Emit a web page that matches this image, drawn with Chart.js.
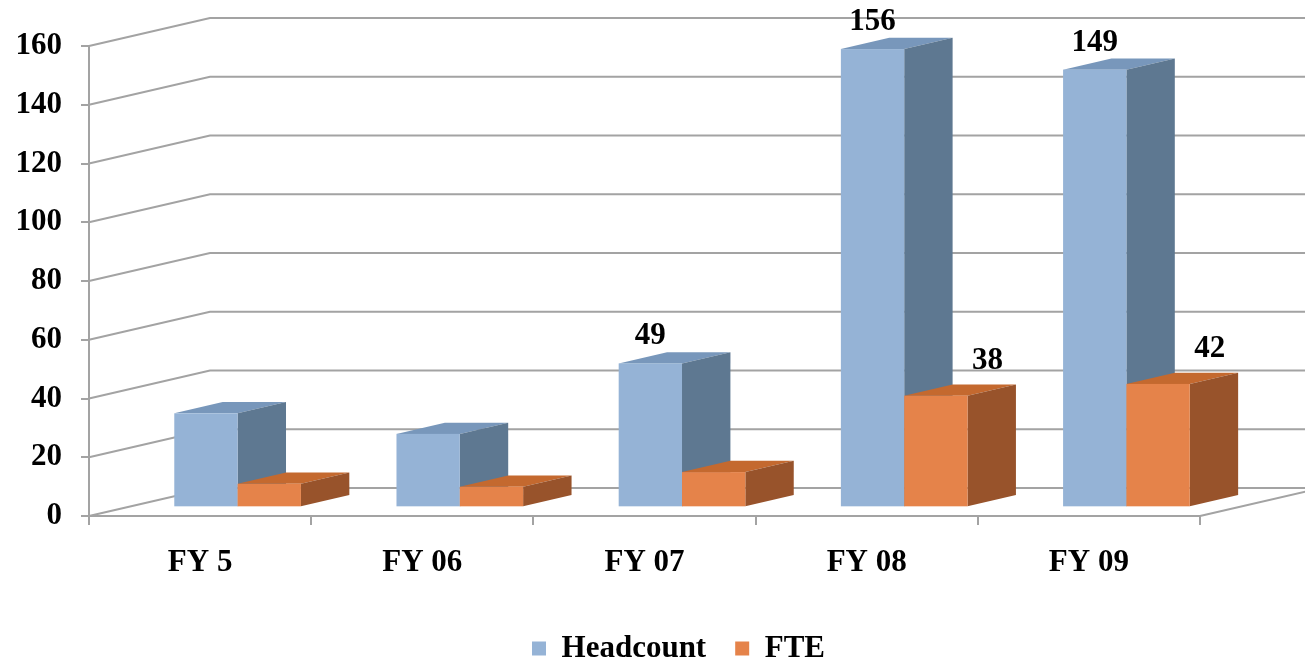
<!DOCTYPE html>
<html>
<head>
<meta charset="utf-8">
<title>Headcount / FTE</title>
<script src="https://cdn.jsdelivr.net/npm/chart.js@4.4.1/dist/chart.umd.min.js"></script>
<style>
  html, body { margin: 0; padding: 0; background: #fff; }
</style>
</head>
<body>
<canvas id="chartHeadcount" width="1305" height="663"></canvas>
<script>
const categories = ['FY 5', 'FY 06', 'FY 07', 'FY 08', 'FY 09'];
const headcount = [32, 25, 49, 156, 149];
const fte = [8, 7, 12, 38, 42];
const yTicks = [0, 20, 40, 60, 80, 100, 120, 140, 160];
// bars that carry a value label
const headcountShowValue = [false, false, true, true, true];
const fteShowValue = [false, false, false, true, true];

const FONT = 'Liberation Serif';
const FONT_SIZE = 31;
const GRID = '#a3a3a3';

// projection of the back wall, and where the bars sit inside the depth
const WALL = { dx: 121, dy: -28 };
const BAR_FRONT = 0.31;
const BAR_DEPTH = 0.40;
const LEGEND_SHIFT = 52;

const box3d = {
  id: 'box3d',
  afterLayout(chart) {
    // legend sits a bit right of the canvas centre
    if (chart.legend) chart.legend.left += LEGEND_SHIFT;
  },
  beforeDatasetsDraw(chart) {
    const { ctx, chartArea: area, scales: { y } } = chart;
    ctx.save();

    // walls: one slanted + back line per tick
    ctx.strokeStyle = GRID;
    ctx.lineWidth = 2;
    yTicks.forEach(v => {
      const py = y.getPixelForValue(v);
      ctx.beginPath();
      ctx.moveTo(area.left, py);
      ctx.lineTo(area.left + WALL.dx, py + WALL.dy);
      ctx.lineTo(area.right + WALL.dx, py + WALL.dy);
      ctx.stroke();
    });
    const y0 = y.getPixelForValue(0);
    ctx.beginPath();
    ctx.moveTo(area.right, y0);
    ctx.lineTo(area.right + WALL.dx, y0 + WALL.dy);
    ctx.stroke();

    const fx = WALL.dx * BAR_FRONT, fy = WALL.dy * BAR_FRONT;
    const dx = WALL.dx * BAR_DEPTH, dy = WALL.dy * BAR_DEPTH;
    const datasets = chart.data.datasets;

    categories.forEach((_, i) => {
      datasets.forEach((ds, d) => {
        const bar = chart.getDatasetMeta(d).data[i];
        const { x, y: top, base, width } = bar.getProps(['x', 'y', 'base', 'width'], true);
        const l = x - width / 2 + fx, r = x + width / 2 + fx;
        const t = top + fy, b = base + fy;

        ctx.fillStyle = ds.topColor;
        ctx.beginPath();
        ctx.moveTo(l, t);
        ctx.lineTo(l + dx, t + dy);
        ctx.lineTo(r + dx, t + dy);
        ctx.lineTo(r, t);
        ctx.closePath();
        ctx.fill();

        ctx.fillStyle = ds.sideColor;
        ctx.beginPath();
        ctx.moveTo(r, t);
        ctx.lineTo(r + dx, t + dy);
        ctx.lineTo(r + dx, b + dy);
        ctx.lineTo(r, b);
        ctx.closePath();
        ctx.fill();

        ctx.fillStyle = ds.backgroundColor;
        ctx.fillRect(l, t, r - l, b - t);
      });
    });
    ctx.restore();
    return false;
  },
  afterDraw(chart) {
    const { ctx } = chart;
    const fx = WALL.dx * BAR_FRONT, fy = WALL.dy * BAR_FRONT;
    ctx.save();
    ctx.font = 'bold ' + FONT_SIZE + 'px "' + FONT + '"';
    ctx.fillStyle = '#000';
    ctx.textAlign = 'center';
    ctx.textBaseline = 'alphabetic';
    chart.data.datasets.forEach((ds, d) => {
      chart.getDatasetMeta(d).data.forEach((bar, i) => {
        if (!ds.showValue[i]) return;
        const { x, y: top, width } = bar.getProps(['x', 'y', 'width'], true);
        const t = top + fy;
        if (d === 0) {
          ctx.fillText(ds.data[i], x + fx, t - 19);
        } else {
          ctx.fillText(ds.data[i], x + width / 2 + fx + 20, t - 27);
        }
      });
    });
    ctx.restore();
  }
};

const dataHeadcount = {
  labels: categories,
  datasets: [{
    label: 'Headcount',
    data: headcount,
    backgroundColor: '#95b3d6',
    sideColor: '#5e7891',
    topColor: '#7897bb',
    showValue: headcountShowValue,
    borderWidth: 0
  }, {
    label: 'FTE',
    data: fte,
    backgroundColor: '#e5834a',
    sideColor: '#98532b',
    topColor: '#c4692f',
    showValue: fteShowValue,
    borderWidth: 0
  }]
};

const tickFont = { family: FONT, size: FONT_SIZE, weight: 'bold' };

const optionsHeadcount = {
  responsive: false,
  animation: false,
  devicePixelRatio: 1,
  layout: {
    padding: { top: 46, left: 0, right: 0, bottom: -11 }
  },
  datasets: {
    bar: { categoryPercentage: 0.57, barPercentage: 1 }
  },
  scales: {
    x: {
      grid: {
        display: true,
        offset: true,
        drawOnChartArea: false,
        tickLength: 9,
        color: GRID,
        lineWidth: 2
      },
      border: { display: true, color: GRID, width: 2 },
      ticks: { font: tickFont, color: '#000', padding: 19 },
      afterFit: s => { s.height = 88; }
    },
    y: {
      min: 0,
      max: 160,
      grid: {
        drawOnChartArea: false,
        tickLength: 8,
        color: GRID,
        lineWidth: 2
      },
      border: { display: true, color: GRID, width: 2 },
      ticks: { font: tickFont, color: '#000', padding: 19 },
      afterBuildTicks: s => { s.ticks = yTicks.map(v => ({ value: v })); },
      afterFit: s => { s.width = 89; }
    },
    // empty axis that only reserves room on the right for the depth
    yRight: {
      position: 'right',
      display: true,
      grid: { display: false },
      border: { display: false },
      ticks: { display: false },
      afterFit: s => { s.width = 105; }
    }
  },
  plugins: {
    legend: {
      position: 'bottom',
      labels: {
        font: tickFont,
        color: '#000',
        boxWidth: 14,
        boxHeight: 14,
        padding: 29
      }
    },
    tooltip: { enabled: false }
  }
};

const ctxHeadcount = document.getElementById('chartHeadcount');

new Chart(ctxHeadcount, {
  type: 'bar',
  data: dataHeadcount,
  options: optionsHeadcount,
  plugins: [box3d]
});
</script>
</body>
</html>
